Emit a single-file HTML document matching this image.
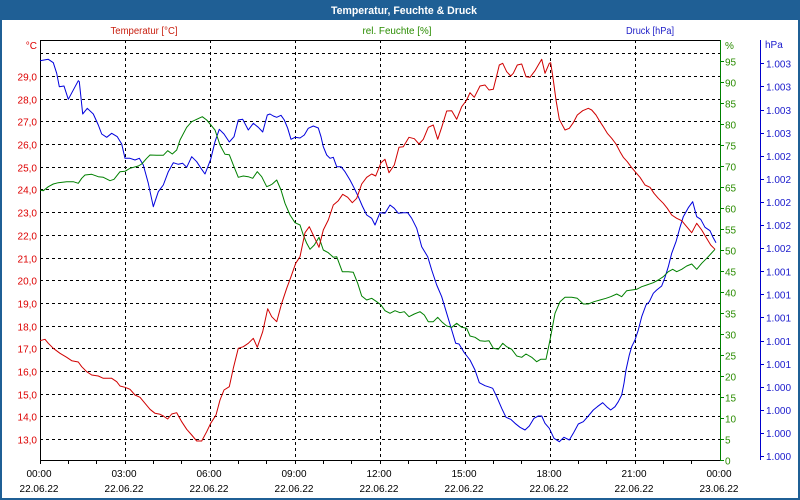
<!DOCTYPE html>
<html><head><meta charset="utf-8"><style>
html,body{margin:0;padding:0;background:#fff;}
svg{display:block;font-family:"Liberation Sans",sans-serif;}
</style></head><body>
<svg width="800" height="500" viewBox="0 0 800 500" xmlns="http://www.w3.org/2000/svg">
<rect x="0" y="0" width="800" height="500" fill="#fff"/>
<rect x="0" y="0" width="800" height="20" fill="#1f5f95"/>
<rect x="0" y="0" width="2" height="500" fill="#1f5f95"/>
<rect x="798" y="0" width="2" height="500" fill="#1f5f95"/>
<rect x="0" y="498" width="800" height="2" fill="#1f5f95"/>
<text x="404" y="14" fill="#fff" font-size="11" font-weight="bold" text-anchor="middle" textLength="146" lengthAdjust="spacingAndGlyphs">Temperatur, Feuchte &amp; Druck</text>

<text x="144" y="34" fill="#c82010" font-size="10" text-anchor="middle" textLength="67" lengthAdjust="spacingAndGlyphs">Temperatur [°C]</text>
<text x="397" y="34" fill="#2a8c00" font-size="10" text-anchor="middle" textLength="69" lengthAdjust="spacingAndGlyphs">rel. Feuchte [%]</text>
<text x="650" y="34" fill="#2020c8" font-size="10" text-anchor="middle" textLength="48" lengthAdjust="spacingAndGlyphs">Druck [hPa]</text>

<g stroke="#000" stroke-width="1" stroke-dasharray="3,3" shape-rendering="crispEdges" fill="none">
<path d="M40 53.5H720M40 76.5H720M40 99.5H720M40 121.5H720M40 144.5H720M40 167.5H720M40 189.5H720M40 212.5H720M40 235.5H720M40 258.5H720M40 280.5H720M40 303.5H720M40 326.5H720M40 348.5H720M40 371.5H720M40 394.5H720M40 416.5H720M40 439.5H720"/>
<path d="M125.5 40V460M210.5 40V460M295.5 40V460M380.5 40V460M465.5 40V460M550.5 40V460M635.5 40V460"/>
</g>

<g shape-rendering="crispEdges" stroke-width="1" fill="none">
<path d="M40 40.5H720" stroke="#000"/>
<path d="M40.5 40V464" stroke="#000"/>
<path d="M40 460.5H720" stroke="#000"/>
<path d="M720.5 40V461" stroke="#008000"/>
<path d="M760.5 40V460" stroke="#0000cc"/>
<path stroke="#000" d="M40.5 460V464M68.5 460V464M96.5 460V464M125.5 460V464M153.5 460V464M181.5 460V464M210.5 460V464M238.5 460V464M266.5 460V464M295.5 460V464M323.5 460V464M351.5 460V464M380.5 460V464M408.5 460V464M436.5 460V464M465.5 460V464M493.5 460V464M521.5 460V464M550.5 460V464M578.5 460V464M606.5 460V464M635.5 460V464M663.5 460V464M691.5 460V464"/>
<path stroke="#008000" d="M720 460.5H724M720 439.5H724M720 418.5H724M720 397.5H724M720 376.5H724M720 355.5H724M720 334.5H724M720 313.5H724M720 292.5H724M720 271.5H724M720 250.5H724M720 229.5H724M720 208.5H724M720 187.5H724M720 166.5H724M720 145.5H724M720 124.5H724M720 103.5H724M720 82.5H724M720 61.5H724"/>
<path stroke="#0000cc" d="M760 456.5H764M760 433.5H764M760 410.5H764M760 387.5H764M760 364.5H764M760 341.5H764M760 317.5H764M760 294.5H764M760 271.5H764M760 248.5H764M760 225.5H764M760 202.5H764M760 179.5H764M760 156.5H764M760 133.5H764M760 110.5H764M760 86.5H764M760 63.5H764"/>
</g>

<g fill="#dd0000" font-size="10" text-anchor="end">
<text x="37" y="49">°C</text>
<text x="37" y="80.5">29,0</text><text x="37" y="103.5">28,0</text><text x="37" y="125.5">27,0</text>
<text x="37" y="148.5">26,0</text><text x="37" y="171.5">25,0</text><text x="37" y="193.5">24,0</text>
<text x="37" y="216.5">23,0</text><text x="37" y="239.5">22,0</text><text x="37" y="262.5">21,0</text>
<text x="37" y="284.5">20,0</text><text x="37" y="307.5">19,0</text><text x="37" y="330.5">18,0</text>
<text x="37" y="352.5">17,0</text><text x="37" y="375.5">16,0</text><text x="37" y="398.5">15,0</text>
<text x="37" y="420.5">14,0</text><text x="37" y="443.5">13,0</text>
</g>

<g fill="#2a8c00" font-size="10">
<text x="725" y="49">%</text>
<text x="725" y="65.5">95</text><text x="725" y="86.5">90</text><text x="725" y="107.5">85</text>
<text x="725" y="128.5">80</text><text x="725" y="149.5">75</text><text x="725" y="170.5">70</text>
<text x="725" y="191.5">65</text><text x="725" y="212.5">60</text><text x="725" y="233.5">55</text>
<text x="725" y="254.5">50</text><text x="725" y="275.5">45</text><text x="725" y="296.5">40</text>
<text x="725" y="317.5">35</text><text x="725" y="338.5">30</text><text x="725" y="359.5">25</text>
<text x="725" y="380.5">20</text><text x="725" y="401.5">15</text><text x="725" y="422.5">10</text>
<text x="725" y="443.5">5</text><text x="725" y="464.5">0</text>
</g>

<g fill="#1a1acc" font-size="10">
<text x="765" y="48">hPa</text>
<text x="766" y="67.5">1.003</text><text x="766" y="90.5">1.003</text><text x="766" y="114">1.003</text><text x="766" y="137">1.003</text>
<text x="766" y="160">1.002</text><text x="766" y="183">1.002</text><text x="766" y="206">1.002</text><text x="766" y="229">1.002</text><text x="766" y="252">1.002</text>
<text x="766" y="275.5">1.001</text><text x="766" y="298.5">1.001</text><text x="766" y="321.5">1.001</text><text x="766" y="345">1.001</text><text x="766" y="368">1.001</text>
<text x="766" y="391">1.000</text><text x="766" y="414">1.000</text><text x="766" y="437">1.000</text><text x="766" y="460">1.000</text>
</g>

<g fill="#000" font-size="10" text-anchor="middle">
<text x="39" y="477">00:00</text><text x="39" y="492">22.06.22</text>
<text x="124" y="477">03:00</text><text x="124" y="492">22.06.22</text>
<text x="209" y="477">06:00</text><text x="209" y="492">22.06.22</text>
<text x="294" y="477">09:00</text><text x="294" y="492">22.06.22</text>
<text x="379" y="477">12:00</text><text x="379" y="492">22.06.22</text>
<text x="464" y="477">15:00</text><text x="464" y="492">22.06.22</text>
<text x="549" y="477">18:00</text><text x="549" y="492">22.06.22</text>
<text x="634" y="477">21:00</text><text x="634" y="492">22.06.22</text>
<text x="719" y="477">00:00</text><text x="719" y="492">23.06.22</text>
</g>

<g fill="none" stroke-width="1" stroke-linejoin="round">
<polyline stroke="#0000dd" points="40,60.7 48.3,59.3 53.3,62.7 56.7,73.3 59.3,86.7 64,86 68.3,99.3 78.3,80.7 79.3,81.7 82.7,114 87.3,108.3 93.3,114 98.3,125 101.7,134 106.7,137.3 111.7,133.3 117.3,136.7 121.7,144 125,158.3 130,158.3 135,160 139.3,158.3 143.3,165 148.3,183.3 153.3,206.7 158.3,191.7 163.3,185 168.3,171.7 173.3,162.7 178.3,164.3 182.7,163.3 186.7,167.3 191.7,156.7 196.7,161.7 201,168.3 205,174 210.7,159.3 215,141.7 219.3,129.3 224,134 229.3,142 234,136.7 238.3,120 242.7,119.3 248.3,130 253.3,123.3 258.3,127.3 262.7,132 267.3,115 270,114 273.3,116 276.7,117.3 281,115.3 284.3,120 287.7,128.3 291,139.3 295,137.3 300,138 304.3,135 308.3,128.3 313.3,126 318.3,128 321,136.7 323.3,146.7 326.7,155 330,158.3 333.3,157.3 336.7,166.7 341,166.7 345,171.7 350,180 354.3,188.3 358.3,196.7 362.3,206 366.7,215 371.7,218.3 375,225 380,212.7 385,213.3 390,205 394.3,208.3 398.3,213.3 403.3,212.7 407.7,212.7 411.7,218.3 416.7,228.3 421.7,246.7 427.7,256.7 431.7,270 436.7,285 441.7,296.7 446.7,313.3 451.7,330 455.7,343.3 459,344 464.3,352.7 470,360 475,370 479.3,382.7 485,385.7 490,387.3 492.7,388.3 496.7,396.7 501.7,408.3 506,417.3 510.7,419.3 515,423.3 520,427.3 525,430 529.3,426 534,418.3 538.3,416 541.7,416 545,423.3 549.3,428.3 554,438.3 559.3,441.7 564,437.3 569.3,440 573.3,433.3 578.3,424 583.3,421.7 588.3,416 593.3,410 597.3,406.7 602.7,402.7 606.7,406.7 610.7,410 615,406.7 618.3,401.7 621.7,395 624,383.3 626,370 629.3,355 631.7,346.7 635,340 638.3,330 641.7,316.7 646,305 649.3,301.7 653.3,293.3 656.7,290 661.7,286 665,277.3 668.3,266.7 671.7,253.3 676,241.7 680,227.3 683.3,216.7 688.3,207.7 692.7,201.7 696.7,216.7 700.7,219.3 705,227.3 710,230.7 712.7,236.7 716,242.7"/>
<polyline stroke="#008000" points="40,190 43.3,190.7 48.3,186.7 53.3,184 58.3,182.7 66.7,181.7 73.3,181.7 78.3,183.3 81.7,178.3 85,175 91.7,174.3 98.3,176.7 103.3,177.3 110,180.7 114,179.3 120,171.7 125,171.3 130,168.3 138.3,166 141.7,164 146.7,158.3 150,155 156.7,155.3 163.3,155.3 167.7,150.7 172.3,154 176.7,150 180,140 186.7,127.3 191.7,121.7 196.7,119.3 202.3,116.7 206.7,120 211.7,126 215,130 220,145 225,154.3 229.3,154.7 234,166.7 238.3,177.3 243.3,176 248.3,176.7 252.7,178.3 257.3,171.7 261.7,176.7 266.7,186.7 270,185.3 272.3,184 276.7,180 281,190 285,203.3 290,215 295,222.7 300,225 303.3,235 306.7,243.3 310,249.3 314.3,245 319,237.3 323.3,250 328.3,252.7 333.3,257.3 336.7,256.7 342.3,271.7 348.3,271.7 353.3,272.3 357.7,283.3 361.7,296 366.7,300 371.7,298.3 376.7,301.7 381,305 385,310.7 390,313.3 395,310.7 400,312.7 404.3,311.7 409,316.7 414.3,314 420,311.7 424.3,315 428.3,321.7 433.3,321.7 437.7,317.3 441.7,321.7 446.7,326 451.7,327.3 456.7,323.3 461.7,327.3 466.7,328.3 470,336 475,337.3 480,340.7 485,341.3 489,340.7 493.3,348.3 498.3,349.3 502.7,343.3 506.7,346.7 511.7,349.3 516.7,356 521.7,357.3 526,354 531.7,357.3 536.7,361.7 540.7,359.3 546,359.3 550,340 555,313.3 560,301.7 565,297.3 571.7,297.3 577.3,298.3 583.3,304 588.3,304 594,301.7 600,300 606,298.3 610.7,296.7 616.7,294 621.7,296.7 626.7,290.7 631.7,290 636.7,289.3 641.7,286.7 646.7,285 653.3,282.7 658.3,280 663.3,276.7 668.3,271.7 672.7,269.3 676.7,271.7 681.7,269.3 686.7,266 691.7,264 696.7,269.3 701.7,263.3 706.7,258.3 710.7,254 715,249.3"/>
<polyline stroke="#d00000" points="40,340.7 45,339.3 48.3,343.3 53.3,348.3 60,353.3 66.7,357.3 71.7,360.7 78.3,362 81.7,366.7 86.7,371.7 91.7,375 98.3,376 103.3,378.3 111.7,378.3 116.7,381.7 120,386 125,387.3 130,389.3 135,395 140,397.3 145,403.3 150,409.3 155,413.3 160,414.3 163.3,416 167.7,419 171.7,414 176.7,412.7 181.7,421.7 186.7,429.3 191.7,435 196.7,441 201.7,441 206.7,431.7 210.7,423.3 216,415 220,400 224,390 229.3,386.7 233.3,368.3 238.3,348.3 243.3,346.7 248.3,343.3 253.3,338.3 257.3,347.3 262.7,331.7 267.7,308.7 270,313.3 271.7,316.7 276.7,321.7 281.7,303.3 286.7,288.3 291,276.7 295.7,263.3 300,256.7 305,232.7 309.3,226.7 314.3,237.3 319,247.3 323.3,230 328.3,220 333.3,205 338.3,200.7 342.7,194.3 347.7,197.3 352.3,202.7 356.7,198.3 361.7,184 366.7,177.3 371.7,174 375.7,176 381,162.7 385,159.3 389,172.7 394.3,165 399,147.3 403.3,146.7 409,137.3 414.3,138.7 419,144 423.3,139.3 428.3,127.3 433.3,125 437.7,139.3 441.7,127.3 446.7,111 451.7,110.7 456.7,119.3 461.7,106.7 466.7,100 470,92.7 474.3,97.3 480,86 485,85 489,90 493.3,89.3 497.3,73.3 499.3,65 502.7,63.3 506.7,71.7 510.7,76 513.3,73.3 517.3,65 521.7,64 526,76.7 530,77.3 535,70.7 538.3,65 541.7,59.3 545,73.3 549.3,63.3 550.7,62.7 553.3,80 556,100 559.3,119.3 565,130 569.3,128.3 573.3,122.7 577.3,115 582.7,110.7 588.3,108.3 591.7,110 596,115 600,121.7 603.3,126.7 607.3,133.3 611.7,138.3 616,144 620,151.7 623.3,157.3 627.3,161.7 631.7,167.7 636,172.7 640,177.3 645,185 650,187.3 654,193.3 658.3,198.3 663.3,203.3 667.3,208.3 671.7,215 676.7,218.3 681.7,220.7 686.7,226.7 691.7,232.7 696.7,223.3 701.7,230 706,237.3 710.7,245 715,249.3"/>
</g>
</svg>
</body></html>
